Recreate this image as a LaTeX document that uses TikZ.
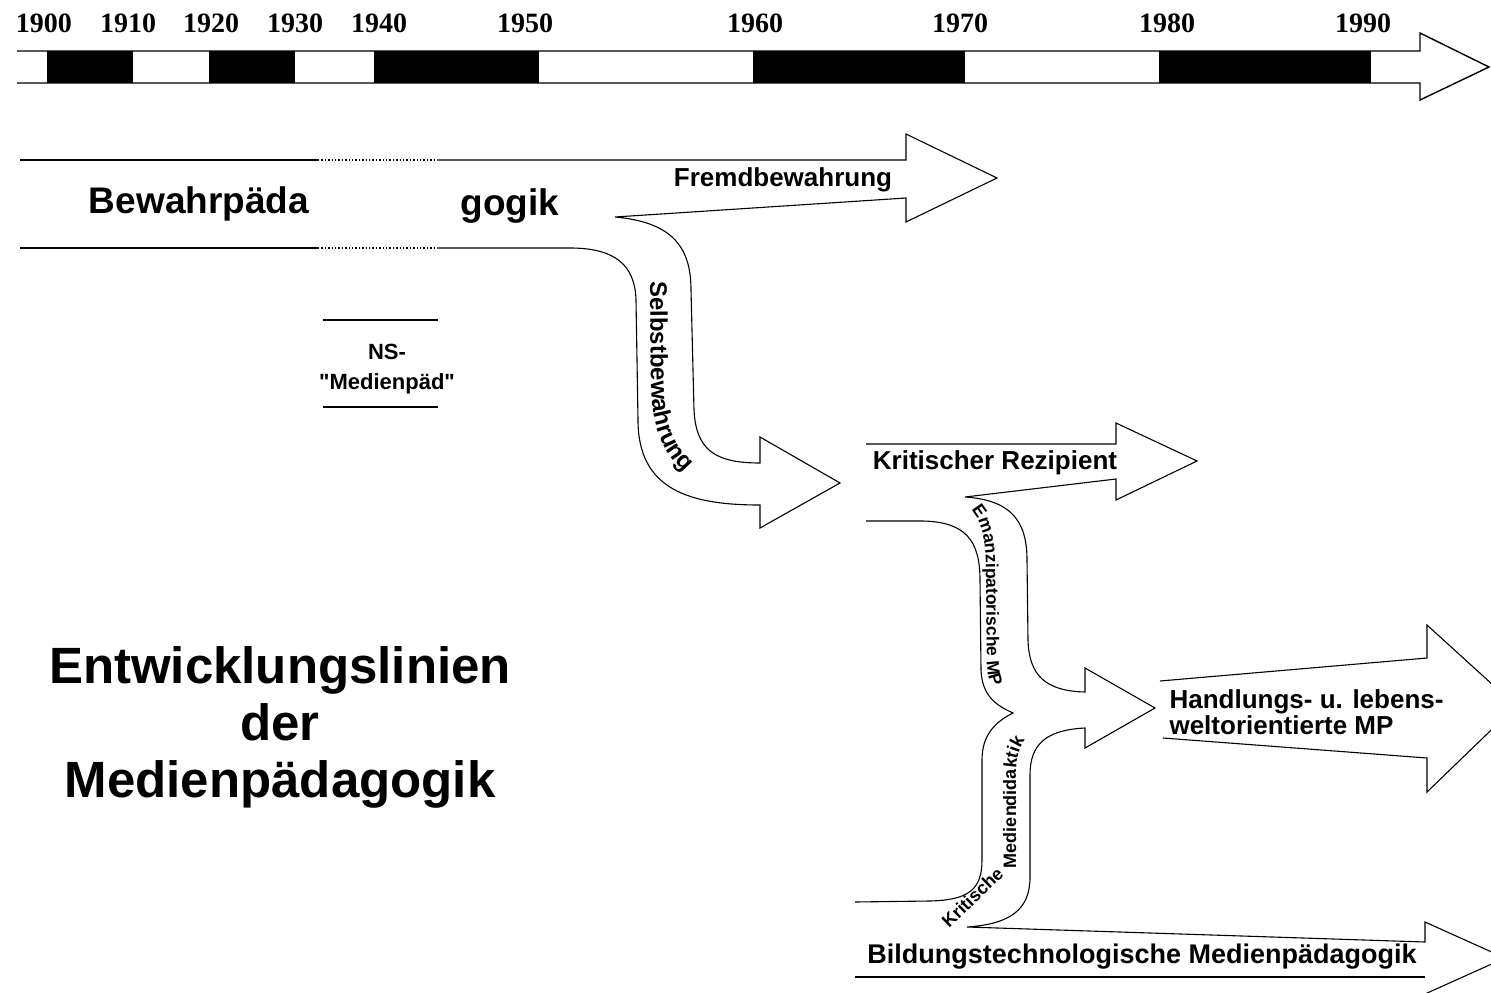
\documentclass[tikz,border=0pt]{standalone}
\usepackage{fontspec}
\setmainfont{Liberation Serif}
\setsansfont{Liberation Sans}
\newfontfamily\plainsans{Liberation Sans}
\usetikzlibrary{decorations.text}
\tikzset{
  year/.style={font=\bfseries\fontsize{28}{28}\selectfont},
  lbl/.style={font=\sffamily\bfseries\fontsize{#1}{#1}\selectfont},
  band/.style={line width=1.4pt},
  edge/.style={line width=1.1pt},
}
\begin{document}
\begin{tikzpicture}[x=1pt,y=-1pt]
			\useasboundingbox (0,0) rectangle (1491,993);
			\clip (0,0) rectangle (1491,993);
			% time line
			\foreach \a/\b in {47/133,209/295,374/539,753/965,1159/1371}
				\fill (\a,51) rectangle (\b,83);
			\draw[band] (17,51) -- (1420,51) -- (1420,33) -- (1489,67) -- (1420,100) -- (1420,83) -- (17,83);
			\foreach \x/\yr in {44/1900,128/1910,211/1920,295/1930,379/1940,525/1950,755/1960,960/1970,1167/1980,1363/1990}
				\node[year] (y\yr) at (\x,23) {\yr};
			% Bewahrpaedagogik
			\draw[band] (20,160) -- (318,160);
			\draw[band,dotted] (318,160) -- (437,160);
			\draw[band] (20,248) -- (318,248);
			\draw[band,dotted] (318,248) -- (437,248);
			\draw[edge] (437,160) -- (906,160) -- (906,134) -- (997,178) -- (906,222) -- (906,198) -- (615,217)
				.. controls (670,222) and (691,245) .. (691,290) -- (694,410)
				.. controls (696,450) and (715,463) .. (760,463) -- (760,437) -- (840,483) -- (760,528) -- (760,505)
				.. controls (690,505) and (638,490) .. (638,420) -- (636,300)
				.. controls (635,265) and (615,248) .. (570,248) -- (437,248);
			\node[lbl=37] (bew1) at (199,204) {Bewahrpäda};
			\node[lbl=37] (bew2) at (510,206) {gogik};
			\node[lbl=26] (fremd) at (783,180) {Fremdbewahrung};
			\path[decorate,decoration={text along path,text align=left,
				text={|\sffamily\bfseries\fontsize{24}{24}\selectfont|Selbstbewahrung}}]
				(650,281) -- (651,385) .. controls (652,440) and (672,478) .. (735,500);
			% NS
			\draw[band] (323,320) -- (438,320);
			\draw[band] (323,407) -- (438,407);
			\node[font=\plainsans\bfseries\fontsize{22}{22}\selectfont] (ns1) at (387,352) {NS-};
			\node[font=\plainsans\bfseries\fontsize{22}{22}\selectfont] (ns2) at (387,384) {"Medienpäd"};
			% Kritischer Rezipient
			\draw[edge] (866,444) -- (1116,444) -- (1116,423) -- (1197,461) -- (1116,500) -- (1116,479) -- (965,497)
				.. controls (1010,500) and (1027,520) .. (1027,560) -- (1028,640)
				.. controls (1029,675) and (1045,691) .. (1085,692) -- (1085,668) -- (1155,708) -- (1085,748) -- (1085,728)
				.. controls (1045,730) and (1030,745) .. (1030,775) -- (1030,877)
				.. controls (1030,910) and (1010,924) .. (967,927) -- (1425,942) -- (1425,922) -- (1505,958) -- (1425,994);
			\draw[edge] (855,977) -- (1425,977);
			\draw[edge] (866,521) -- (923,521) .. controls (965,522) and (980,540) .. (980,580) -- (981,670)
				.. controls (982,695) and (995,705) .. (1013,713)
				.. controls (995,722) and (982,735) .. (982,760) -- (982,860)
				.. controls (982,890) and (968,900) .. (930,901) -- (855,902);
			\node[lbl=26] (krit) at (995,463) {Kritischer Rezipient};
			\path[decorate,decoration={text along path,text align=left,
				text={|\sffamily\bfseries\fontsize{17.5}{17.5}\selectfont|Emanzipatorische MP}}]
				(971,510) .. controls (982,522) and (986,540) .. (986,572) -- (987,665) .. controls (988,685) and (995,698) .. (1008,710);
			\node[lbl=18,anchor=base west,rotate=44,inner sep=0pt] (kritisch) at (949,929) {Kritische};
			\path[decorate,decoration={text along path,text align=left,
				text={|\sffamily\bfseries\fontsize{18}{18}\selectfont|Mediendidaktik}}]
				(1016,868) -- (1016,775) .. controls (1016,752) and (1022,738) .. (1042,722);
			% Handlungs- u. lebensweltorientierte MP
			\draw[edge] (1160,681) -- (1427,658) -- (1427,625) -- (1516,706) -- (1427,792) -- (1427,758) -- (1163,738);
			\node[lbl=26,anchor=west,align=left] (hand) at (1166,712) {Handlungs- u. lebens-\\weltorientierte MP};
			\node[lbl=27] (bild) at (1142,957) {Bildungstechnologische Medienpädagogik};
			% title
			\node[lbl=51,align=center] (titel) at (280,727) {Entwicklungslinien\\[6pt]der\\[6pt]Medienpädagogik};
		\end{tikzpicture}
\end{document}
